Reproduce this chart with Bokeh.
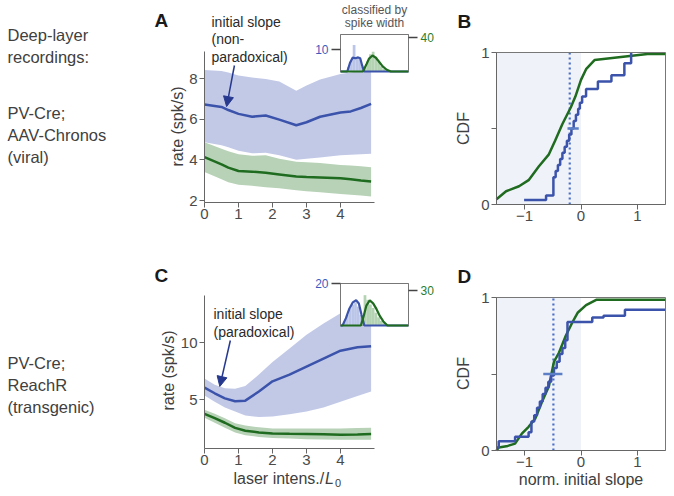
from bokeh.plotting import figure
from bokeh.models import Range1d, LinearAxis, FixedTicker, Label, Arrow, NormalHead
from bokeh.embed import file_html
from bokeh.resources import INLINE

FONT = "Liberation Sans"
TXT = "#404040"
TICKTXT = "#4a4a4a"
AX = "#666666"
BLUE = "#3b53ab"
BLUE_BAND = "#c2c9e7"
GREEN = "#1f6b1f"
GREEN_BAND = "#b7d2b7"
BLUE_LIGHT = "#aebbe3"
GREEN_LIGHT = "#a6cba6"
ARROW = "#27398f"
SHADE = "#eff2f9"
MED = "#5b7ec6"
BLUE_TXT = "#3b5cc0"
GREEN_TXT = "#2b7d2b"

# ---------------- data ----------------
# Panel A (viral): rate vs laser intensity
xs_A = [0, 0.5, 0.7, 1.0, 1.4, 1.8, 2.2, 2.7, 3.0, 3.4, 4.0, 4.3, 4.6, 4.9]
blue_mean_A = [6.72, 6.6, 6.45, 6.26, 6.12, 6.18, 5.98, 5.7, 5.85, 6.12, 6.33, 6.38, 6.55, 6.75]
blue_hi_A = [8.42, 8.37, 8.3, 8.15, 8.05, 7.98, 7.85, 7.4, 7.65, 7.95, 8.22, 8.3, 8.4, 8.55]
blue_lo_A = [4.87, 4.72, 4.62, 4.45, 4.32, 4.35, 4.22, 4.0, 4.05, 4.12, 4.22, 4.25, 4.28, 4.3]
green_mean_A = [4.13, 3.78, 3.62, 3.45, 3.42, 3.36, 3.28, 3.18, 3.15, 3.13, 3.1, 3.05, 2.98, 2.93]
green_hi_A = [4.87, 4.55, 4.42, 4.28, 4.2, 4.22, 4.05, 3.9, 3.88, 3.85, 3.75, 3.72, 3.68, 3.64]
green_lo_A = [3.4, 3.05, 2.9, 2.78, 2.72, 2.65, 2.6, 2.5, 2.45, 2.4, 2.32, 2.28, 2.25, 2.2]
arrow_A = [0.88, 8.64, 0.65, 6.62]  # x_start, y_start, x_end, y_end
yticks_A = [2, 4, 6, 8]
xticks_main = [0, 1, 2, 3, 4]
x_extent_main = (0, 5)
y_top_A = 9.35

# Panel C (transgenic)
xs_C = [0, 0.3, 0.6, 0.9, 1.2, 1.6, 2.0, 2.5, 3.0, 3.5, 4.0, 4.5, 4.9]
blue_mean_C = [6.05, 5.55, 5.1, 4.85, 4.9, 5.7, 6.6, 7.2, 7.9, 8.6, 9.3, 9.6, 9.7]
blue_hi_C = [6.85, 6.3, 6.0, 5.95, 6.2, 7.2, 8.3, 9.5, 10.7, 11.7, 12.6, 13.6, 14.3]
blue_lo_C = [5.35, 4.8, 4.3, 3.95, 3.6, 3.45, 3.5, 3.7, 3.95, 4.3, 4.8, 5.3, 5.7]
green_mean_C = [3.74, 3.35, 2.95, 2.5, 2.25, 2.1, 2.0, 1.97, 1.95, 1.93, 1.9, 1.92, 1.95]
green_hi_C = [4.1, 3.75, 3.35, 2.9, 2.7, 2.55, 2.45, 2.45, 2.45, 2.45, 2.45, 2.48, 2.5]
green_lo_C = [3.4, 2.95, 2.5, 2.1, 1.85, 1.7, 1.6, 1.55, 1.5, 1.48, 1.45, 1.45, 1.45]
arrow_C = [0.76, 10.2, 0.45, 6.15]
yticks_C = [5, 10]
y_top_C = 14.2

# Insets (spike-width histograms, normalised width axis 0..1)
inA_blue_edges = [0.10, 0.14, 0.18, 0.22, 0.26, 0.30, 0.34]
inA_blue_counts = [2, 5, 12, 6, 6, 2]
inA_green_edges = [0.34, 0.38, 0.42, 0.46, 0.50, 0.54, 0.58, 0.62, 0.66, 0.70]
inA_green_counts = [4, 12, 20, 23, 17, 11, 6, 3, 1]
inA_blue_line_x = [0, 0.10, 0.14, 0.18, 0.22, 0.26, 0.29, 0.32, 0.35, 1.0]
inA_blue_line_y = [0, 0, 4, 6.3, 6.0, 6.4, 6.0, 2.5, 0, 0]
inA_green_line_x = [0, 0.33, 0.38, 0.42, 0.47, 0.52, 0.57, 0.62, 0.68, 0.74, 1.0]
inA_green_line_y = [0, 0, 8, 15, 18.5, 16, 11, 6, 2, 0, 0]
inA_ticks = (10, 40)

inC_blue_edges = [0.04, 0.08, 0.12, 0.16, 0.20, 0.24, 0.28, 0.32, 0.36]
inC_blue_counts = [2, 5, 8, 10, 11, 9, 5, 2]
inC_green_edges = [0.30, 0.34, 0.38, 0.42, 0.46, 0.50, 0.54, 0.58, 0.62, 0.66, 0.70]
inC_green_counts = [6, 26, 22, 18, 15, 11, 7, 4, 2, 1]
inC_blue_line_x = [0, 0.03, 0.08, 0.13, 0.18, 0.23, 0.27, 0.31, 0.35, 1.0]
inC_blue_line_y = [0, 0, 3.5, 8, 11, 12, 10.5, 5, 0, 0]
inC_green_line_x = [0, 0.30, 0.34, 0.38, 0.43, 0.48, 0.53, 0.58, 0.63, 0.69, 1.0]
inC_green_line_y = [0, 0, 8, 17, 21.5, 19, 14, 8, 3.5, 0, 0]
inC_ticks = (20, 30)

# Panel B CDFs
b_blue_x = [-1.01, -0.62, -0.49, -0.45, -0.41, -0.37, -0.33, -0.29, -0.25, -0.21, -0.17,
            -0.13, -0.09, -0.05, -0.02, 0.02, 0.09, 0.30, 0.54, 0.77, 0.89]
b_blue_y = [0.03, 0.06, 0.18, 0.22, 0.26, 0.30, 0.34, 0.38, 0.42, 0.46, 0.50,
            0.55, 0.59, 0.63, 0.67, 0.71, 0.76, 0.81, 0.85, 0.93, 1.0]
b_green_x = [-1.5, -1.33, -1.1, -0.93, -0.75, -0.57, -0.46, -0.33, -0.18, -0.1, 0.0,
             0.09, 0.24, 0.71, 1.18, 1.5]
b_green_y = [0.035, 0.087, 0.12, 0.16, 0.25, 0.33, 0.42, 0.53, 0.64, 0.71, 0.82,
             0.89, 0.95, 0.97, 0.99, 0.99]
b_median = -0.2
b_ci = [-0.24, -0.04]

# Panel D CDFs
d_blue_x = [-1.5, -1.46, -1.17, -0.93, -0.88, -0.83, -0.78, -0.73, -0.68, -0.63, -0.58,
            -0.53, -0.48, -0.43, -0.38, -0.33, -0.28, -0.24, 0.20, 0.40, 0.78, 1.5]
d_blue_y = [0.02, 0.06, 0.09, 0.12, 0.19, 0.23, 0.28, 0.32, 0.37, 0.41, 0.45,
            0.49, 0.54, 0.58, 0.63, 0.67, 0.72, 0.84, 0.87, 0.88, 0.92, 0.92]
d_green_x = [-1.5, -1.46, -1.3, -1.17, -1.05, -0.93, -0.81, -0.69, -0.57, -0.48, -0.39,
             -0.27, -0.15, -0.06, 0.09, 0.27, 1.5]
d_green_y = [0.0, 0.02, 0.03, 0.045, 0.11, 0.155, 0.21, 0.32, 0.42, 0.58, 0.64,
             0.75, 0.84, 0.90, 0.95, 0.985, 0.985]
d_median = -0.49
d_ci = [-0.67, -0.33]

cdf_xlim = (-1.5, 1.5)
cdf_ylim = (0, 1)
cdf_xticks = [-1, 0, 1]
cdf_yticks = [0, 0.5, 1]

# ---------------- geometry (page pixels) ----------------
PAGE = (0, 0, 668, 488)            # left, top, right, bottom of the canvas
BOX_A = (340, 34, 408, 71)         # inset boxes: left, top, right, bottom
BOX_C = (340, 283, 408, 325)


def lin_range(p0, v0, p1, v1, f_lo, f_hi):
    k = (v1 - v0) / (p1 - p0)
    a = v0 + (f_lo - p0) * k
    b = v0 + (f_hi - p0) * k
    return Range1d(start=min(a, b), end=max(a, b))


def xr(p0, v0, p1, v1):
    return lin_range(p0, v0, p1, v1, PAGE[0], PAGE[2])


def yr(p0, v0, p1, v1):
    return lin_range(p0, v0, p1, v1, PAGE[1], PAGE[3])


def y_value(r, py):
    return r.start + (r.end - r.start) * (PAGE[3] - py) / (PAGE[3] - PAGE[1])


p = figure(width=PAGE[2] - PAGE[0], height=PAGE[3] - PAGE[1],
           x_range=Range1d(PAGE[0], PAGE[2]), y_range=Range1d(PAGE[3], PAGE[1]),
           x_axis_type=None, y_axis_type=None, min_border=0,
           output_backend="svg", toolbar_location=None, title=None)
p.outline_line_color = None
p.background_fill_color = "white"
p.border_fill_color = "white"

ex, ey = {}, {}
# panel scales (pixel calibration points)
ex["a"] = xr(204, 0, 340, 4)
ey["a"] = yr(200, 2, 78, 8)
ex["c"] = xr(204, 0, 340, 4)
ey["c"] = yr(399, 5, 342.3, 10)
ex["b"] = xr(496, -1.5, 665, 1.5)
ey["b"] = yr(204, 0, 52, 1)
ex["d"] = xr(496, -1.5, 665, 1.5)
ey["d"] = yr(450, 0, 297, 1)
for key, box, ticks, cal_l, cal_r in (("iA", BOX_A, inA_ticks, 49, 36.5),
                                      ("iC", BOX_C, inC_ticks, 283, 290)):
    ex[key] = xr(box[0], 0, box[2], 1)
    ey[key + "box"] = yr(box[3], 0, box[1], 1)
    ey[key + "L"] = yr(box[3], 0, cal_l, ticks[0])
    ey[key + "R"] = yr(box[3], 0, cal_r, ticks[1])
p.extra_x_ranges = ex
p.extra_y_ranges = ey


def add_axis(side, xn, yn, loc, bounds, ticks, overrides=None, size=15, color=TICKTXT,
             tick_out=5, standoff=2, line_color=AX, tick_color=AX, tick_width=1):
    ax = LinearAxis(x_range_name=xn, y_range_name=yn, fixed_location=loc, bounds=bounds,
                    ticker=FixedTicker(ticks=ticks))
    ax.minor_tick_line_color = None
    ax.major_tick_in = 0
    ax.major_tick_out = tick_out
    ax.major_tick_line_color = tick_color
    ax.major_tick_line_width = tick_width
    ax.axis_line_color = line_color
    ax.major_label_text_font = FONT
    ax.major_label_text_font_size = f"{size}px"
    ax.major_label_text_color = color
    ax.major_label_standoff = standoff
    if overrides:
        ax.major_label_overrides = overrides
    p.add_layout(ax, side)


def put(px, py, text, size, color=TXT, align="left", style="normal", angle=0):
    p.add_layout(Label(x=px, y=py, text=text, text_font=FONT, text_font_size=f"{size}px",
                       text_color=color, text_align=align, text_baseline="middle",
                       text_font_style=style, angle=angle, angle_units="deg"))


def rate_panel(k, xs, bm, bhi, blo, gm, ghi, glo, arrow, yticks, ytop, px_bottom):
    kw = dict(x_range_name=k, y_range_name=k)
    p.varea(x=xs, y1=blo, y2=bhi, fill_color=BLUE_BAND, **kw)
    p.varea(x=xs, y1=glo, y2=ghi, fill_color=GREEN_BAND, **kw)
    p.line(xs, bm, line_color=BLUE, line_width=2.5, **kw)
    p.line(xs, gm, line_color=GREEN, line_width=2.5, **kw)
    ybot = y_value(ey[k], px_bottom)
    add_axis("below", k, k, ybot, x_extent_main, xticks_main, standoff=1)
    add_axis("left", k, k, 0, (ybot, ytop), yticks)
    p.add_layout(Arrow(end=NormalHead(size=10, fill_color=ARROW, line_color=ARROW),
                       x_start=arrow[0], y_start=arrow[1], x_end=arrow[2], y_end=arrow[3],
                       line_color=ARROW, line_width=1.5, **kw))


def inset(k, box, ticks, bh, gh, bl, gl):
    p.quad(left=[0], right=[1], bottom=[0], top=[1], x_range_name=k, y_range_name=k + "box",
           fill_color="white", line_color="#777777", line_width=1)
    p.quad(left=bh[0][:-1], right=bh[0][1:], bottom=0, top=bh[1], x_range_name=k,
           y_range_name=k + "L", fill_color=BLUE_LIGHT, fill_alpha=0.85, line_color=None)
    p.quad(left=gh[0][:-1], right=gh[0][1:], bottom=0, top=gh[1], x_range_name=k,
           y_range_name=k + "R", fill_color=GREEN_LIGHT, fill_alpha=0.85, line_color=None)
    p.line(bl[0], bl[1], x_range_name=k, y_range_name=k + "L", line_color=BLUE, line_width=2.2)
    p.line(gl[0], gl[1], x_range_name=k, y_range_name=k + "R", line_color=GREEN, line_width=2.2)
    for side, suffix, loc, tick, col in (("left", "L", 0, ticks[0], BLUE_TXT),
                                         ("right", "R", 1, ticks[1], GREEN_TXT)):
        top = y_value(ey[k + suffix], box[1])
        add_axis(side, k, k + suffix, loc, (0, top), [tick], size=12, color=col,
                 tick_out=9, standoff=3, line_color="#777777", tick_color="#444444",
                 tick_width=1.5)


def cdf_panel(k, bx, by, gx, gy, med, ci):
    kw = dict(x_range_name=k, y_range_name=k)
    p.quad(left=[cdf_xlim[0]], right=[0], bottom=[cdf_ylim[0]], top=[cdf_ylim[1]],
           fill_color=SHADE, line_color=None, **kw)
    p.segment(x0=[med], x1=[med], y0=[cdf_ylim[0]], y1=[cdf_ylim[1]], line_color="#4a6fc8",
              line_dash="2 3", line_width=2.2, **kw)
    p.line(gx, gy, line_color=GREEN, line_width=2.5, **kw)
    p.step(bx, by, mode="after", line_color=BLUE, line_width=2.5, **kw)
    p.segment(x0=[ci[0]], x1=[ci[1]], y0=[0.5], y1=[0.5], line_color=MED, line_width=2.5, **kw)
    p.quad(left=[cdf_xlim[0]], right=[cdf_xlim[1]], bottom=[cdf_ylim[0]], top=[cdf_ylim[1]],
           fill_color=None, line_color="#777777", line_width=1, **kw)
    add_axis("below", k, k, cdf_ylim[0], cdf_xlim, cdf_xticks, overrides={-1: "\u22121"},
             standoff=1)
    add_axis("left", k, k, cdf_xlim[0], cdf_ylim, cdf_yticks, overrides={0.5: ""})


# ---------- panel A ----------
rate_panel("a", xs_A, blue_mean_A, blue_hi_A, blue_lo_A, green_mean_A, green_hi_A, green_lo_A,
           arrow_A, yticks_A, y_top_A, 202)
inset("iA", BOX_A, inA_ticks, (inA_blue_edges, inA_blue_counts),
      (inA_green_edges, inA_green_counts),
      (inA_blue_line_x, inA_blue_line_y), (inA_green_line_x, inA_green_line_y))

# ---------- panel C ----------
rate_panel("c", xs_C, blue_mean_C, blue_hi_C, blue_lo_C, green_mean_C, green_hi_C, green_lo_C,
           arrow_C, yticks_C, y_top_C, 448)
inset("iC", BOX_C, inC_ticks, (inC_blue_edges, inC_blue_counts),
      (inC_green_edges, inC_green_counts),
      (inC_blue_line_x, inC_blue_line_y), (inC_green_line_x, inC_green_line_y))

# ---------- panels B, D ----------
cdf_panel("b", b_blue_x, b_blue_y, b_green_x, b_green_y, b_median, b_ci)
cdf_panel("d", d_blue_x, d_blue_y, d_green_x, d_green_y, d_median, d_ci)

# ---------- texts ----------
for txt, py in (("Deep-layer", 34), ("recordings:", 56), ("PV-Cre;", 112),
                ("AAV-Chronos", 134), ("(viral)", 156),
                ("PV-Cre;", 362), ("ReachR", 384), ("(transgenic)", 406)):
    put(7, py, txt, 16.5)
for txt, px, py in (("A", 154, 20), ("C", 154, 275), ("B", 457, 21), ("D", 457, 276)):
    put(px, py, txt, 19, color="#1a1a1a", style="bold")
put(211, 21, "initial slope", 14, color="#2a2a2a")
put(211, 38.5, "(non-", 14, color="#2a2a2a")
put(211, 56, "paradoxical)", 14, color="#2a2a2a")
put(213, 313, "initial slope", 14, color="#2a2a2a")
put(213, 331.5, "(paradoxical)", 14, color="#2a2a2a")
put(374, 9, "classified by", 12, color="#555555", align="center")
put(374, 22.5, "spike width", 12, color="#555555", align="center")
put(177, 126, "rate (spk/s)", 16, align="center", angle=90)
put(167.5, 370, "rate (spk/s)", 16, align="center", angle=90)
put(463, 128, "CDF", 16, align="center", angle=90)
put(463, 373, "CDF", 16, align="center", angle=90)
put(233, 478, "laser intens./", 16)
put(324.5, 478, "L", 16, style="italic")
put(334.5, 482.5, "0", 11)
put(580.5, 479, "norm. initial slope", 16, align="center")

open("out.html", "w").write(file_html(p, INLINE))
